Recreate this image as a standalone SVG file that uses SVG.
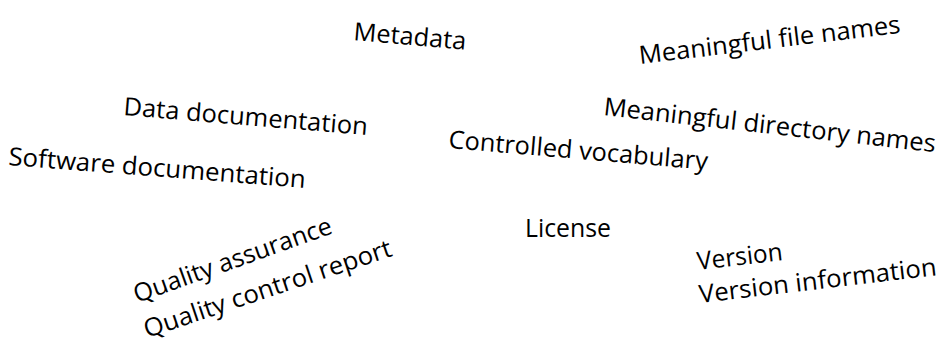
<svg xmlns="http://www.w3.org/2000/svg" width="942" height="339" viewBox="0 0 942 339">
  <style>
    .w { font-family: "Open Sans", "Noto Sans", sans-serif; font-size: 25px; fill: #000; }
  </style>
  <rect width="942" height="339" fill="#fff"/>
  <g id="metadata"><text class="w" x="353" y="40" transform="rotate(5 353 40)" textLength="113" lengthAdjust="spacingAndGlyphs">Metadata</text></g>
  <g id="meaningful-file-names"><text class="w" x="640" y="64" transform="rotate(-6.8 640 64)" textLength="263" lengthAdjust="spacingAndGlyphs">Meaningful file names</text></g>
  <g id="data-documentation"><text class="w" x="123" y="115" transform="rotate(4.7 123 115)" textLength="245" lengthAdjust="spacingAndGlyphs">Data documentation</text></g>
  <g id="meaningful-directory-names"><text class="w" x="603" y="115" transform="rotate(6.4 603 115)" textLength="334" lengthAdjust="spacingAndGlyphs">Meaningful directory names</text></g>
  <g id="controlled-vocabulary"><text class="w" x="448" y="148" transform="rotate(4.8 448 148)" textLength="260" lengthAdjust="spacingAndGlyphs">Controlled vocabulary</text></g>
  <g id="software-documentation"><text class="w" x="8" y="165" transform="rotate(4.4 8 165)" textLength="298" lengthAdjust="spacingAndGlyphs">Software documentation</text></g>
  <g id="license"><text class="w" x="525" y="237" textLength="86" lengthAdjust="spacingAndGlyphs">License</text></g>
  <g id="quality">
    <text class="w" x="137" y="303" transform="rotate(-19.6 137 303)" textLength="209" lengthAdjust="spacingAndGlyphs">Quality assurance</text>
    <text class="w" x="147" y="338" transform="rotate(-18.5 147 338)" textLength="260" lengthAdjust="spacingAndGlyphs">Quality control report</text>
  </g>
  <g id="version">
    <text class="w" x="698" y="270" transform="rotate(-6.7 698 270)" textLength="86" lengthAdjust="spacingAndGlyphs">Version</text>
    <text class="w" x="700" y="303" transform="rotate(-6.7 700 303)" textLength="239" lengthAdjust="spacingAndGlyphs">Version information</text>
  </g>
</svg>
